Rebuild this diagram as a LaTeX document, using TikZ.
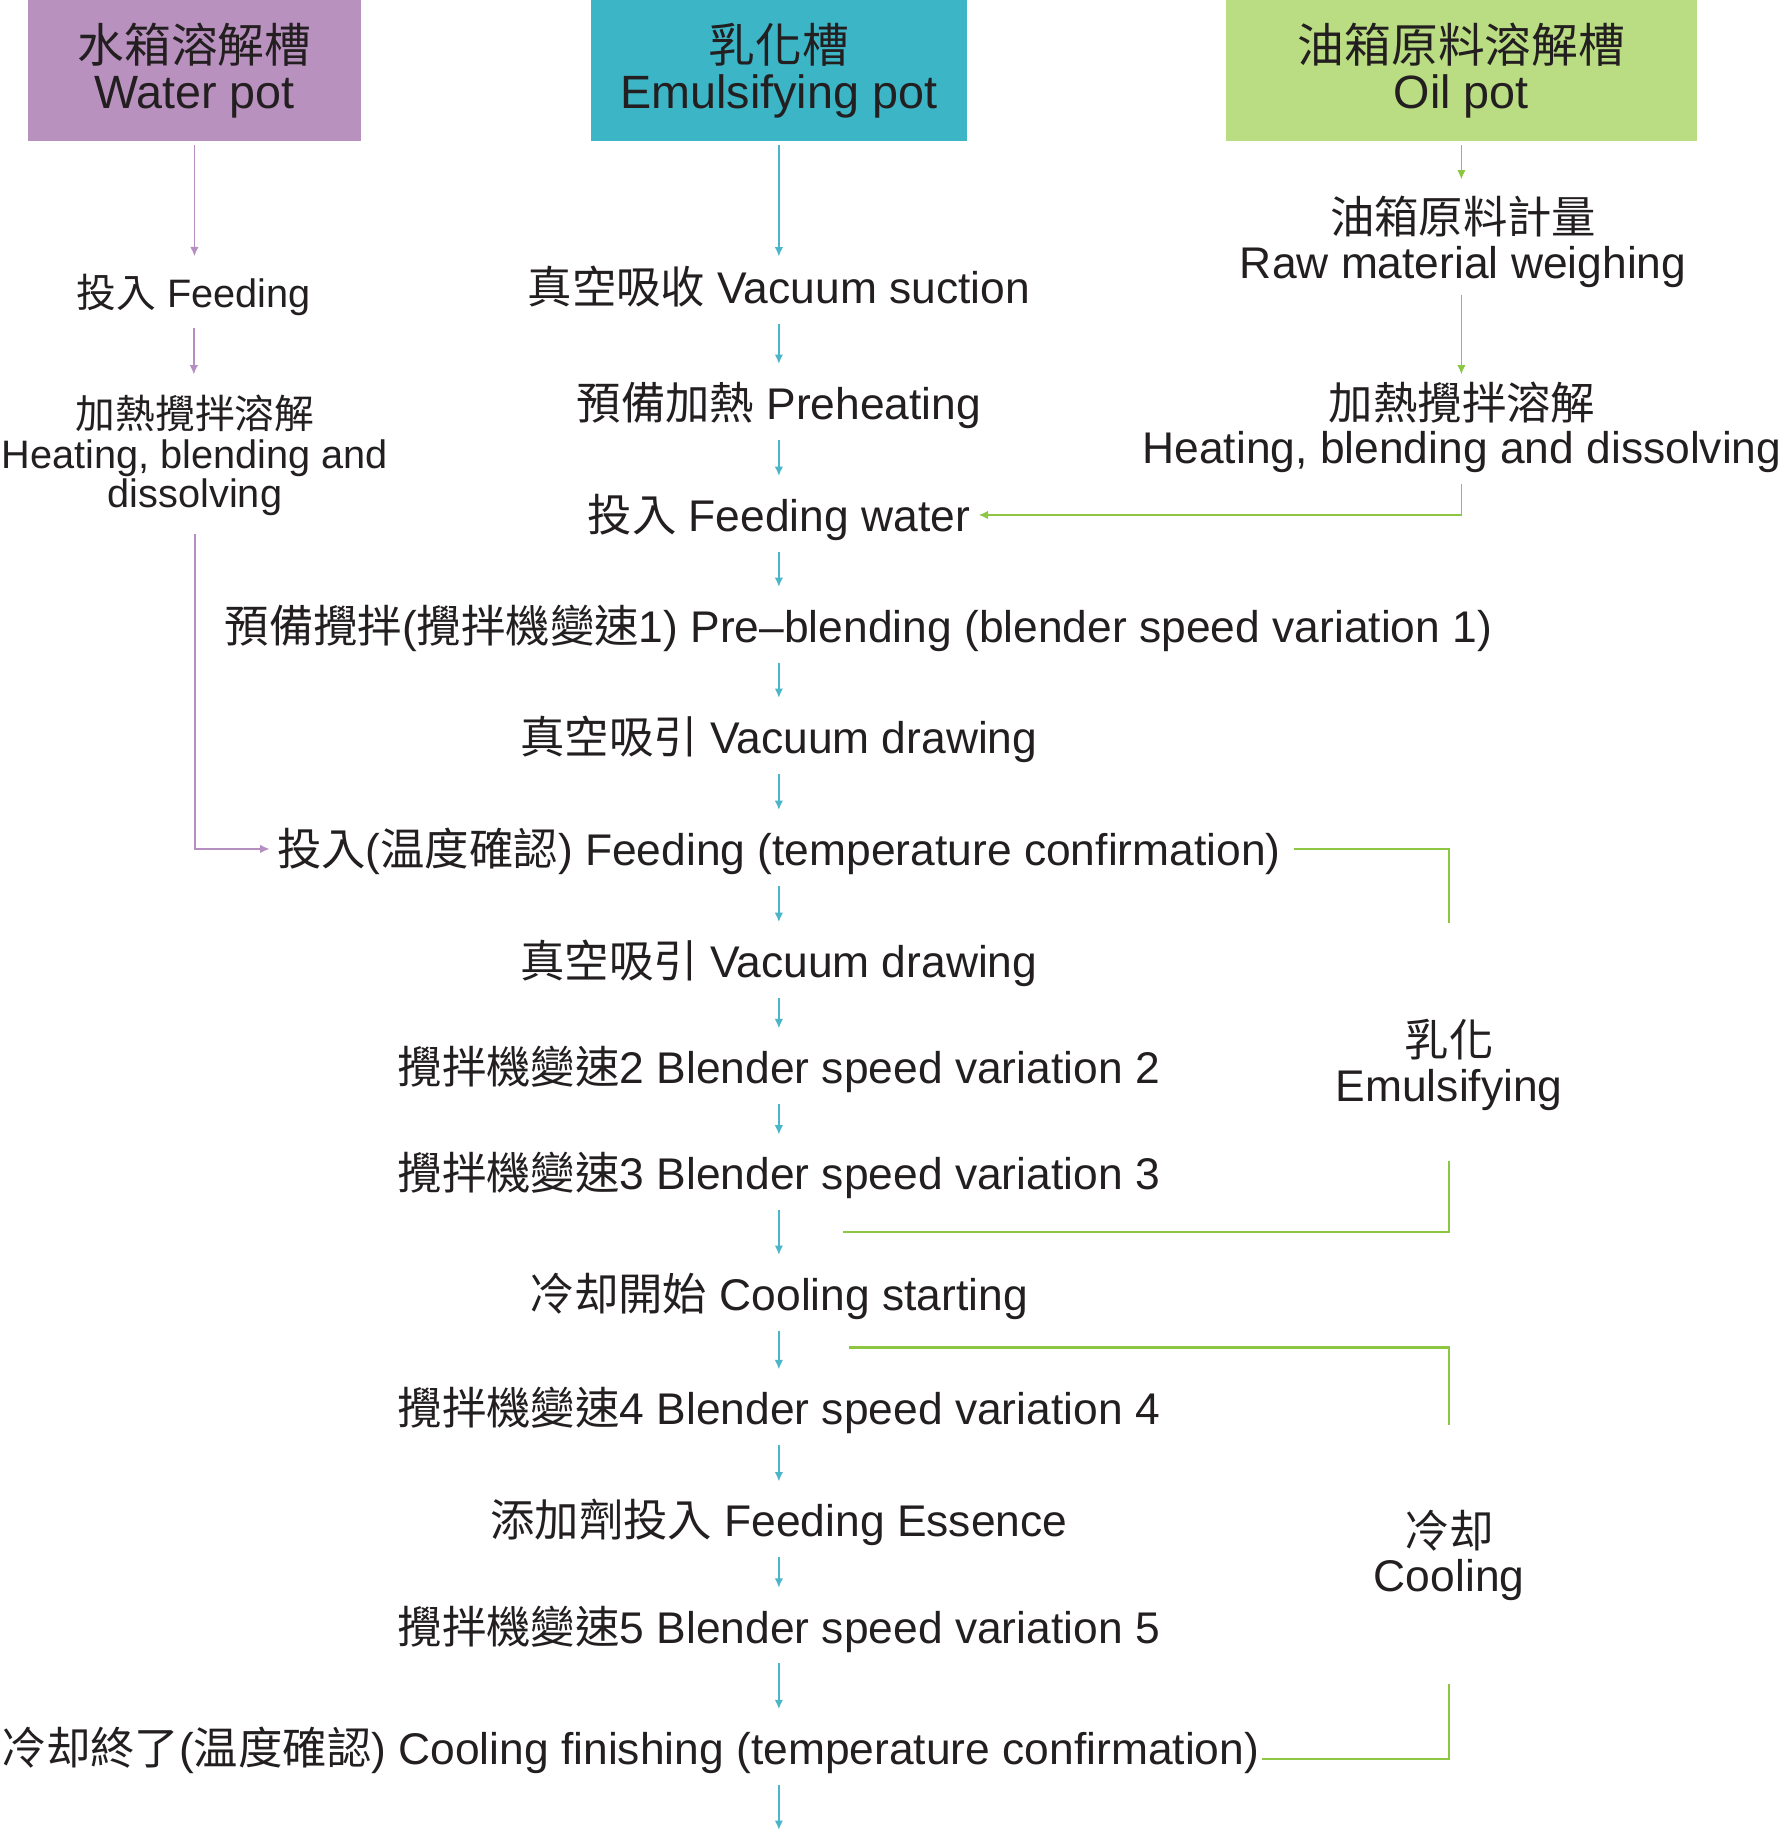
\documentclass[tikz,border=0pt]{standalone}
\usepackage{fontspec}
\setmainfont{Liberation Sans}
\newfontfamily\cjk{Noto Sans CJK TC}
\usetikzlibrary{arrows.meta,calc}
\newcommand\zh[1]{{\cjk #1}}
\definecolor{hdrPurple}{RGB}{185,145,191}
\definecolor{hdrTeal}{RGB}{60,181,198}
\definecolor{hdrGreen}{RGB}{186,220,130}
\definecolor{linePurple}{RGB}{180,143,192}
\definecolor{lineTeal}{RGB}{75,182,200}
\definecolor{lineGreen}{RGB}{141,198,65}
\definecolor{txt}{RGB}{35,31,32}
\begin{document}
\begin{tikzpicture}[x=0.5pt,y=-0.5pt,
  every node/.style={text=txt},
  hdr/.style={align=center,font=\fontsize{20}{20}\selectfont,inner sep=0pt,minimum height=60.5pt},
  st/.style={font=\fontsize{19}{19}\selectfont,inner sep=0pt,text height=16pt,text depth=2pt},
  lt/.style={font=\fontsize{17}{17}\selectfont,inner sep=0pt,text height=14.3pt,text depth=1.8pt},
  lm/.style={align=center,font=\fontsize{17}{17}\selectfont,inner sep=0pt},
  rm/.style={align=center,font=\fontsize{19}{19}\selectfont,inner sep=0pt},
  ar/.style={-{Latex[length=4pt,width=3.6pt]},line width=0.65pt},
  pa/.style={ar,linePurple},
  ta/.style={ar,lineTeal,shorten <=6.5pt,shorten >=7.5pt},
  ga/.style={ar,lineGreen},
  brk/.style={lineGreen,line width=1.1pt}]
\useasboundingbox (0,0) rectangle (1525,1568);

% headers
\node[hdr,fill=hdrPurple,minimum width=142.5pt] (wp) at (166.5,60.5) {\zh{水箱溶解槽}\\Water pot};
\node[hdr,fill=hdrTeal,minimum width=161pt] (ep) at (667,60.5) {\zh{乳化槽}\\Emulsifying pot};
\node[hdr,fill=hdrGreen,minimum width=201.5pt] (op) at (1251.5,60.5) {\zh{油箱原料溶解槽}\\Oil pot};

% middle column
\node[st] (vs) at (667,246) {\zh{真空吸收} Vacuum suction};
\node[st] (ph) at (667,345) {\zh{預備加熱} Preheating};
\node[st] (fw) at (667,441) {\zh{投入} Feeding water};
\node[st,anchor=west] (pb) at (192,536) {\zh{預備攪拌}(\zh{攪拌機變速}1) Pre–blending (blender speed variation 1)};
\node[st] (vd1) at (667,631) {\zh{真空吸引} Vacuum drawing};
\node[st] (ft) at (667,727) {\zh{投入}(\zh{温度確認}) Feeding (temperature confirmation)};
\node[st] (vd2) at (667,823) {\zh{真空吸引} Vacuum drawing};
\node[st] (b2) at (667,914) {\zh{攪拌機變速}2 Blender speed variation 2};
\node[st] (b3) at (667,1005) {\zh{攪拌機變速}3 Blender speed variation 3};
\node[st] (cs) at (667,1108) {\zh{冷却開始} Cooling starting};
\node[st] (b4) at (667,1206) {\zh{攪拌機變速}4 Blender speed variation 4};
\node[st] (fe) at (667,1302) {\zh{添加劑投入} Feeding Essence};
\node[st] (b5) at (667,1393) {\zh{攪拌機變速}5 Blender speed variation 5};
\node[st,anchor=west] (cf) at (1,1497) {\zh{冷却終了}(\zh{温度確認}) Cooling finishing (temperature confirmation)};
\coordinate (endc) at (667,1567);

% left column
\node[lt] (lf) at (166,251) {\zh{投入} Feeding};
\node[lm] (lh) at (167,390) {\zh{加熱攪拌溶解}\\Heating, blending and\\dissolving};

% right column
\node[rm] (rw) at (1253,207) {\zh{油箱原料計量}\\Raw material weighing};
\node[rm] (rh) at (1252,366) {\zh{加熱攪拌溶解}\\Heating, blending and dissolving};

% side labels
\node[rm] (emul) at (1241,912) {\zh{乳化}\\Emulsifying};
\node[rm] (cool) at (1241,1332) {\zh{冷却}\\Cooling};
\coordinate (e2) at (722,1055);
\coordinate (c1) at (727,1154);

% middle arrows
\draw[ta,shorten <=1.5pt,shorten >=4pt] (ep.south) -- (vs.north);
\draw[ta] (vs.south) -- (ph.north);
\draw[ta] (ph.south) -- (fw.north);
\draw[ta] (fw.south) -- (fw.south |- pb.north);
\draw[ta] (vd1.north |- pb.south) -- (vd1.north);
\draw[ta] (vd1.south) -- (ft.north);
\draw[ta] (ft.south) -- (vd2.north);
\draw[ta] (vd2.south) -- (b2.north);
\draw[ta] (b2.south) -- (b3.north);
\draw[ta] (b3.south) -- (cs.north);
\draw[ta] (cs.south) -- (b4.north);
\draw[ta] (b4.south) -- (fe.north);
\draw[ta] (fe.south) -- (b5.north);
\draw[ta] (b5.south) -- (b5.south |- cf.north);
\draw[ta,shorten >=0pt] (b5.south |- cf.south) -- (endc);

% left arrows
\draw[pa,shorten <=1.5pt,shorten >=7.5pt] (wp.south) -- (wp.south |- lf.north);
\draw[pa,shorten <=6.5pt,shorten >=8.5pt] (lf.south) -- (lf.south |- lh.north);
\draw[pa,shorten <=7.5pt,shorten >=3pt] (lh.south) |- (ft.west);

% right arrows
\draw[ga,shorten <=1.5pt,shorten >=7pt] (op.south) -- (op.south |- rw.north);
\draw[ga,shorten <=3pt,shorten >=3pt] (op.south |- rw.south) -- (op.south |- rh.north);
\draw[ga,shorten <=4.5pt,shorten >=3.5pt] (op.south |- rh.south) |- (fw.east);

% brackets
\draw[brk,shorten <=5.5pt,shorten >=41pt] (ft.east) -| (emul.north);
\draw[brk,shorten <=21.5pt] (emul.south) |- (e2);
\draw[brk,shorten >=36pt] (c1) -| (cool.north);
\draw[brk,shorten <=35.5pt,shorten >=1pt] (cool.south) |- ($(cf.east)!0.5!(cf.south east)$);
\end{tikzpicture}
\end{document}
